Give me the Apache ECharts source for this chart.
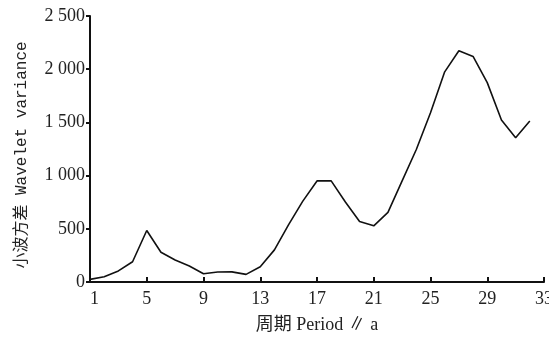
<!DOCTYPE html>
<html>
<head>
<meta charset="utf-8">
<script src="https://cdn.jsdelivr.net/npm/echarts@6/dist/echarts.min.js"></script>
<style>html,body{margin:0;padding:0;background:#fff;}#c{width:549px;height:338px;}</style>
</head>
<body>
<div id="c"></div>
<script>
var periods = [1,2,3,4,5,6,7,8,9,10,11,12,13,14,15,16,17,18,19,20,21,22,23,24,25,26,27,28,29,30,31,32];
var variance = [25,50,104,190,484,280,207,150,78,94,95,72,144,302,540,760,950,950,752,569,528,654,950,1245,1591,1975,2173,2120,1874,1522,1356,1513];
var xTicks = {min:1, max:33, interval:4};
var yTicks = {min:0, max:2500, interval:500};
var xTitle = '周期 Period ∥ a';
var yTitle = '小波方差 Wavelet variance';

var chart = echarts.init(document.getElementById('c'));
var fontNum = 'Liberation Serif, "Noto Sans CJK SC", serif';
chart.setOption({
  animation:false,
  backgroundColor:'#fff',
  grid:{left:90, right:5, top:16, bottom:56, containLabel:false, outerBoundsMode:'none'},
  graphic:[{
    type:'text', x:22, y:155, rotation:Math.PI/2,
    style:{text:yTitle, fontFamily:'"Liberation Mono", "Noto Sans CJK SC", monospace', fontSize:16, fill:'#222', align:'center', verticalAlign:'middle'}
  }],
  xAxis:{
    type:'value', min:xTicks.min, max:xTicks.max, interval:xTicks.interval,
    name:xTitle, nameLocation:'middle', nameGap:34,
    nameTextStyle:{fontFamily:fontNum, fontSize:18, color:'#222'},
    axisLine:{lineStyle:{color:'#111', width:2}},
    axisTick:{inside:true, length:5, lineStyle:{color:'#111', width:2}},
    axisLabel:{margin:8, fontFamily:fontNum, fontSize:18, color:'#222', alignMinLabel:'left', hideOverlap:false},
    splitLine:{show:false}
  },
  yAxis:{
    type:'value', min:yTicks.min, max:yTicks.max, interval:yTicks.interval,
    axisLine:{show:true, lineStyle:{color:'#111', width:2}},
    axisTick:{show:true, length:4, lineStyle:{color:'#111', width:2}},
    axisLabel:{margin:5, fontFamily:fontNum, fontSize:18, color:'#222',
      formatter:function(v){ var s=String(v); return s.length>3 ? s.slice(0,s.length-3)+' '+s.slice(-3) : s; }},
    splitLine:{show:false}
  },
  series:[{
    type:'line', symbol:'none',
    lineStyle:{color:'#111', width:1.6},
    data: periods.map(function(p,i){return [p, variance[i]];})
  }]
});
</script>
</body>
</html>
